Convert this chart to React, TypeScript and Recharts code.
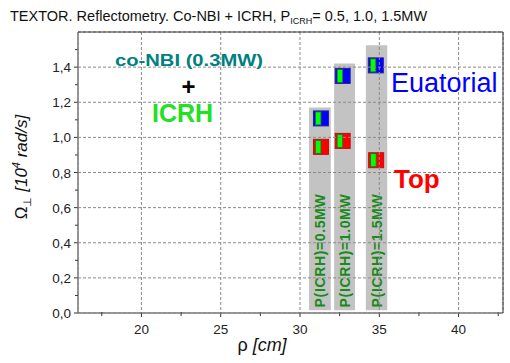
import React from "react";
import { ScatterChart, Scatter, XAxis, YAxis, CartesianGrid, ReferenceArea, ReferenceLine } from "recharts";

const FONT = "'Liberation Sans', Arial, sans-serif";

// chart box
const W = 510;
const H = 363;
const MARGIN = { top: 32, right: 7, bottom: 20, left: 33 };

// axes
const xDomain = [16, 42.8];
const yDomain = [0, 1.6];
const xTicks = [17.5, 20, 22.5, 25, 27.5, 30, 32.5, 35, 37.5, 40, 42.5];
const xMajor = [20, 25, 30, 35, 40];
const yTicks = [0, 0.1, 0.2, 0.3, 0.4, 0.5, 0.6, 0.7, 0.8, 0.9, 1.0, 1.1, 1.2, 1.3, 1.4, 1.5];
const yMajor = [0, 0.2, 0.4, 0.6, 0.8, 1.0, 1.2, 1.4];

// ICRH power levels and the shaded bands around each pair of points
const powerLabels = ["P(ICRH)=0.5MW", "P(ICRH)=1.0MW", "P(ICRH)=1.5MW"];
const bandLeft = [30.57, 32.15, 34.15];
const bandRight = [31.94, 33.47, 35.5];
const bandTop = [1.17, 1.42, 1.525];
const bandBottom = 0.015;

// equatorial (blue) and top (red) measurements
const eqRho = [31.32, 32.69, 34.78];
const eqOmega = [1.108, 1.35, 1.41];
const topRho = [31.32, 32.69, 34.8];
const topOmega = [0.946, 0.98, 0.87];

const eqData = eqRho.map((rho, i) => ({ rho, omega: eqOmega[i] }));
const topData = topRho.map((rho, i) => ({ rho, omega: topOmega[i] }));

const isMajor = (v: number, list: number[]) => list.some((m) => Math.abs(m - v) < 1e-6);

const AXIS = "#333";

function XTick(props: any) {
  const { x, y, payload } = props;
  const major = isMajor(payload.value, xMajor);
  return (
    <g>
      <line x1={x} x2={x} y1={y - 1} y2={y + (major ? 4 : 3)} stroke={AXIS} />
      {major && (
        <text x={x} y={y + 21} textAnchor="middle" fontSize={13.5} fontFamily={FONT} fill="#222">
          {payload.value}
        </text>
      )}
    </g>
  );
}

function YTick(props: any) {
  const { x, y, payload } = props;
  const major = isMajor(payload.value, yMajor);
  return (
    <g>
      <line x1={x - (major ? 4 : 3)} x2={x} y1={y} y2={y} stroke={AXIS} />
      {major && (
        <text x={x - 7} y={y + 5} textAnchor="end" fontSize={13.5} fontFamily={FONT} fill="#222">
          {payload.value.toFixed(1).replace(".", ",")}
        </text>
      )}
    </g>
  );
}

function Marker(props: any, color: string, edge: string) {
  const { cx, cy } = props;
  return (
    <g>
      <rect x={cx - 7.5} y={cy - 7.5} width={15} height={15} fill={color} stroke={edge} strokeWidth={1} />
      <rect x={cx - 5.5} y={cy - 6.5} width={5.5} height={13} fill="#00ff00" stroke="#2a6a2a" strokeWidth={0.8} />
    </g>
  );
}

function BandLabel(props: any) {
  const { viewBox, value } = props;
  if (!viewBox) return null;
  const cx = viewBox.x + viewBox.width / 2;
  const by = viewBox.y + viewBox.height - 3;
  return (
    <text
      x={cx}
      y={by}
      dy="0.36em"
      transform={`rotate(-90, ${cx}, ${by})`}
      fontSize={14}
      fontWeight="bold"
      fontFamily={FONT}
      fill="#1a8a1a"
      textLength={113}
      lengthAdjust="spacing"
    >
      {value}
    </text>
  );
}

// dashed grid and plot frame, drawn by a second chart that shares the same scales
function GridLayer() {
  return (
    <div style={{ position: "absolute", left: 0, top: 0, pointerEvents: "none" }}>
      <ScatterChart width={W} height={H} margin={MARGIN}>
        <CartesianGrid stroke="#8a8a8a" strokeDasharray="3 2" />
        <XAxis
          dataKey="rho"
          type="number"
          domain={xDomain}
          ticks={xMajor}
          interval={0}
          height={30}
          tick={() => <g />}
          tickLine={false}
          axisLine={false}
          allowDataOverflow
        />
        <YAxis
          dataKey="omega"
          type="number"
          domain={yDomain}
          ticks={yMajor}
          interval={0}
          width={45}
          tick={() => <g />}
          tickLine={false}
          axisLine={false}
          allowDataOverflow
        />
        <ReferenceLine x={xDomain[1]} stroke={AXIS} ifOverflow="visible" />
        <ReferenceLine y={yDomain[1]} stroke={AXIS} ifOverflow="visible" />
        <Scatter data={eqData} isAnimationActive={false} shape={() => <g />} />
      </ScatterChart>
    </div>
  );
}

export default function App() {
  return (
    <div style={{ position: "absolute", left: 0, top: 0, width: W, height: H, background: "#fff" }}>
      <ScatterChart width={W} height={H} margin={MARGIN}>
        <XAxis
          dataKey="rho"
          type="number"
          domain={xDomain}
          ticks={xTicks}
          interval={0}
          height={30}
          tickSize={0}
          tickMargin={0}
          tick={(p: any) => <XTick {...p} />}
          tickLine={false}
          axisLine={{ stroke: AXIS }}
          allowDataOverflow
        />
        <YAxis
          dataKey="omega"
          type="number"
          domain={yDomain}
          ticks={yTicks}
          interval={0}
          width={45}
          tickSize={0}
          tickMargin={0}
          tick={(p: any) => <YTick {...p} />}
          tickLine={false}
          axisLine={{ stroke: AXIS }}
          allowDataOverflow
        />
        {powerLabels.map((label, i) => (
          <ReferenceArea
            key={label}
            x1={bandLeft[i]}
            x2={bandRight[i]}
            y1={bandBottom}
            y2={bandTop[i]}
            fill="#c3c3c3"
            fillOpacity={1}
            stroke="none"
            label={<BandLabel value={label} />}
          />
        ))}
        <Scatter
          name="Euatorial"
          data={eqData}
          isAnimationActive={false}
          shape={(p: any) => Marker(p, "#0000ff", "#2020a0")}
        />
        <Scatter
          name="Top"
          data={topData}
          isAnimationActive={false}
          shape={(p: any) => Marker(p, "#ff0000", "#c01010")}
        />
      </ScatterChart>
      <GridLayer />
      <svg
        width={W}
        height={H}
        style={{ position: "absolute", left: 0, top: 0, pointerEvents: "none" }}
        fontFamily={FONT}
      >
        <text x={10} y={21} fontSize={14.5} fill="#111">
          TEXTOR. Reflectometry. Co-NBI + ICRH, P
          <tspan fontSize={9} dy={3}>ICRH</tspan>
          <tspan dy={-3}>= 0.5, 1.0, 1.5MW</tspan>
        </text>
        <text x={115} y={66} fontSize={17} fontWeight="bold" fill="#008080" textLength={148} lengthAdjust="spacingAndGlyphs">
          co-NBI (0.3MW)
        </text>
        <text x={188.5} y={95} fontSize={24} fontWeight="bold" fill="#000" textAnchor="middle">
          +
        </text>
        <text x={152} y={122} fontSize={25} fontWeight="bold" fill="#22e022">
          ICRH
        </text>
        <text x={391} y={92} fontSize={27} fill="#0000ff">
          Euatorial
        </text>
        <text x={394} y={188} fontSize={26} fontWeight="bold" fill="#ff0000">
          Top
        </text>
        <text x={262} y={351} fontSize={18} textAnchor="middle" fill="#111">
          ρ <tspan fontStyle="italic">[cm]</tspan>
        </text>
        <text x={27} y={167} fontSize={17} textAnchor="middle" fill="#111" transform="rotate(-90, 27, 167)">
          Ω<tspan fontSize={11} dy={4}>⊥</tspan>
          <tspan fontStyle="italic" dy={-4}> [10</tspan>
          <tspan fontStyle="italic" fontSize={11} dy={-7}>4</tspan>
          <tspan fontStyle="italic" dy={7}> rad/s]</tspan>
        </text>
      </svg>
    </div>
  );
}
